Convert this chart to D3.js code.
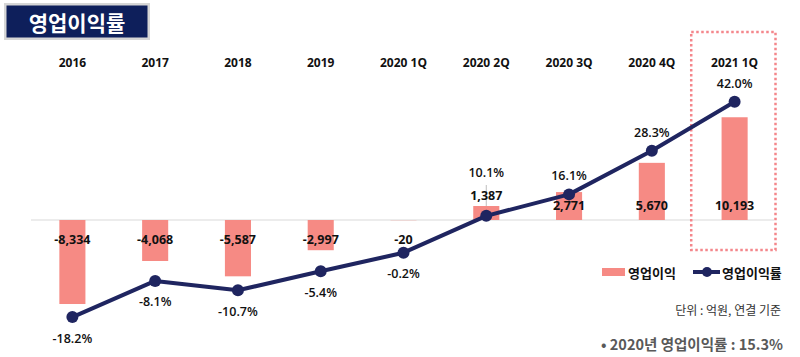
<!DOCTYPE html>
<html><head><meta charset="utf-8">
<script src="https://cdn.jsdelivr.net/npm/d3@7"></script>
<style>
body{margin:0;background:#fff;}
svg{display:block;font-family:"Open Sans","Noto Sans CJK KR",sans-serif;}
</style></head><body>
<svg id="c" width="800" height="357"></svg>
<script>
const categories = ["2016","2017","2018","2019","2020 1Q","2020 2Q","2020 3Q","2020 4Q","2021 1Q"];
const profit = [-8334,-4068,-5587,-2997,-20,1387,2771,5670,10193];
const margin = [-18.2,-8.1,-10.7,-5.4,-0.2,10.1,16.1,28.3,42.0];
const profitLabels = ["-8,334","-4,068","-5,587","-2,997","-20","1,387","2,771","5,670","10,193"];
const marginLabels = ["-18.2%","-8.1%","-10.7%","-5.4%","-0.2%","10.1%","16.1%","28.3%","42.0%"];
const title = "영업이익률";
const legendNames = ["영업이익","영업이익률"];
const unitNote = "단위 : 억원, 연결 기준";
const summary = "• 2020년 영업이익률 : 15.3%";

const svg = d3.select("#c");
const x = d3.scaleBand().domain(categories).range([31,776]);
const yBar = d3.scaleLinear().domain([-10000,15000]).range([320.8,68.8]);
const yPct = d3.scaleLinear().domain([-30,50]).range([359.3,73.1]);
const barColor = "#f68a84", lineColor = "#1f2560";
const cx = c => x(c) + x.bandwidth()/2;

// title box
svg.append("rect").attr("x",4).attr("y",3).attr("width",146).attr("height",37).attr("fill","#d6d6d6");
svg.append("rect").attr("x",6.5).attr("y",5.5).attr("width",141).attr("height",32).attr("fill","#0e1f5b");
svg.append("text").attr("x",77).attr("y",22).attr("text-anchor","middle").attr("dominant-baseline","central")
  .attr("fill","#fff").attr("font-size",21).attr("font-weight","bold")
  .attr("font-family","'Noto Sans CJK KR',sans-serif").text(title);

// category labels
svg.append("g").selectAll("text").data(categories).join("text")
  .attr("x",d=>cx(d)).attr("y",62).attr("text-anchor","middle").attr("dominant-baseline","central")
  .attr("font-size",12).attr("font-weight","bold").attr("fill","#111").text(d=>d);

// zero line
svg.append("line").attr("x1",31).attr("x2",774).attr("y1",yBar(0)).attr("y2",yBar(0))
  .attr("stroke","#d9d9d9").attr("stroke-width",1);

// dotted highlight box
const last = categories[categories.length-1];
svg.append("rect").attr("x",x(last)-2).attr("y",32).attr("width",x.bandwidth()+1.5).attr("height",218)
  .attr("fill","none").attr("stroke","#f4868b").attr("stroke-width",2.5).attr("stroke-dasharray","2.5,2.5");

// bars
const bw = x.bandwidth()*0.315;
svg.append("g").selectAll("rect").data(profit).join("rect")
  .attr("x",(d,i)=>cx(categories[i])-bw/2).attr("width",bw)
  .attr("y",d=>yBar(Math.max(0,d))).attr("height",d=>Math.abs(yBar(d)-yBar(0)))
  .attr("fill",barColor);

// leader line for 1,387
svg.append("line").attr("x1",cx(categories[5])).attr("x2",cx(categories[5]))
  .attr("y1",yBar(0)-35).attr("y2",yBar(profit[5])).attr("stroke","#bfbfbf").attr("stroke-width",1);

// bar labels
svg.append("g").selectAll("text").data(profit).join("text")
  .attr("x",(d,i)=>cx(categories[i]))
  .attr("y",(d,i)=> i===5 ? yBar(0)-25 : (d<0 ? yBar(0)+19 : yBar(0)-15))
  .attr("text-anchor","middle").attr("dominant-baseline","central")
  .attr("font-size",12.5).attr("font-weight","bold").attr("fill","#111")
  .text((d,i)=>profitLabels[i]);

// line
const line = d3.line().x((d,i)=>cx(categories[i])).y(d=>yPct(d));
svg.append("path").datum(margin).attr("d",line).attr("fill","none")
  .attr("stroke",lineColor).attr("stroke-width",4).attr("stroke-linejoin","round");
svg.append("g").selectAll("circle").data(margin).join("circle")
  .attr("cx",(d,i)=>cx(categories[i])).attr("cy",d=>yPct(d)).attr("r",6).attr("fill",lineColor);

// pct labels
svg.append("g").selectAll("text").data(margin).join("text")
  .attr("x",(d,i)=>cx(categories[i]))
  .attr("y",(d,i)=> i===5 ? yPct(d)-43 : (d<0 ? yPct(d)+21 : yPct(d)-18.5))
  .attr("text-anchor","middle").attr("dominant-baseline","central")
  .attr("font-size",12.5).attr("font-weight","600").attr("fill","#111")
  .text((d,i)=>marginLabels[i]);

// legend
const lg = svg.append("g").attr("font-family","'Noto Sans CJK KR',sans-serif");
lg.append("rect").attr("x",602).attr("y",268).attr("width",23).attr("height",8).attr("fill",barColor);
lg.append("text").attr("x",628).attr("y",272).attr("dominant-baseline","central")
  .attr("font-size",13).attr("font-weight","bold").attr("fill","#111").text(legendNames[0]);
lg.append("line").attr("x1",693).attr("x2",720).attr("y1",272).attr("y2",272).attr("stroke",lineColor).attr("stroke-width",4);
lg.append("circle").attr("cx",707).attr("cy",272).attr("r",5).attr("fill",lineColor);
lg.append("text").attr("x",722).attr("y",272).attr("dominant-baseline","central")
  .attr("font-size",13).attr("font-weight","bold").attr("fill","#111").text(legendNames[1]);

// notes
svg.append("text").attr("x",781).attr("y",309).attr("text-anchor","end").attr("dominant-baseline","central")
  .attr("font-size",12).attr("fill","#333").attr("font-family","'Noto Sans CJK KR',sans-serif").text(unitNote);
svg.append("text").attr("x",783).attr("y",343).attr("text-anchor","end").attr("dominant-baseline","central")
  .attr("font-size",14.5).attr("font-weight","bold").attr("fill","#595959")
  .attr("font-family","'Noto Sans CJK KR',sans-serif").text(summary);
</script></body></html>
